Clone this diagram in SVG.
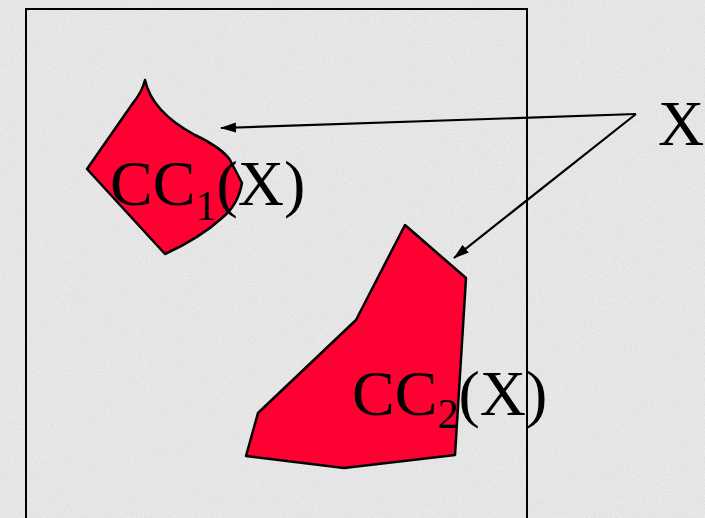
<svg xmlns="http://www.w3.org/2000/svg" width="705" height="518" viewBox="0 0 705 518">
<style>
.shape{fill:#ff0033;stroke:#000;stroke-width:2.5;stroke-linejoin:round}
.lbl{font-family:"Liberation Serif","Times New Roman",serif;font-size:64px;fill:#000}
.conn{stroke:#000;stroke-width:2.2;fill:none}
</style>
<defs>
<filter id="grain" x="0" y="0" width="100%" height="100%">
<feTurbulence type="fractalNoise" baseFrequency="0.9" numOctaves="2" seed="3" result="n"/>
<feColorMatrix in="n" type="matrix" values="0 0 0 0 0.55  0 0 0 0 0.55  0 0 0 0 0.55  0 0 0 -1.6 1.0" result="g"/>
<feComposite in="g" in2="SourceGraphic" operator="in"/>
</filter>
<marker id="ah" viewBox="0 0 16 10" refX="15" refY="5" markerWidth="16" markerHeight="10" markerUnits="userSpaceOnUse" orient="auto">
<path d="M0,0 L16,5 L0,10 Z" fill="#000"/>
</marker>
</defs>
<rect width="705" height="518" fill="#e9e9e9"/>
<rect width="705" height="518" fill="#e9e9e9" filter="url(#grain)" opacity="0.45"/>
<rect x="26" y="9" width="501" height="520" fill="none" stroke="#000" stroke-width="2"/>
<g id="cc1">
<path class="shape" d="M145,80 Q152,112 195,135 Q222,148 230,160 L242,183 Q238,205 222,218 Q200,238 165,254 L87,169 L133,103 Q142,92 145,80 Z"/>
<text class="lbl" x="110" y="205">CC<tspan font-size="42" dy="15">1</tspan><tspan dy="-15">(X)</tspan></text>
</g>
<g id="cc2">
<polygon class="shape" points="405,225 466,278 455,455 344,468 246,456 258,413 356,320"/>
<text class="lbl" x="352" y="415">CC<tspan font-size="42" dy="13">2</tspan><tspan dy="-13">(X)</tspan></text>
</g>
<g id="x">
<text class="lbl" x="658" y="145">X</text>
</g>
<g id="connectors">
<line class="conn" x1="636" y1="114" x2="221" y2="128" marker-end="url(#ah)"/>
<line class="conn" x1="636" y1="114" x2="454" y2="258" marker-end="url(#ah)"/>
</g>
</svg>
